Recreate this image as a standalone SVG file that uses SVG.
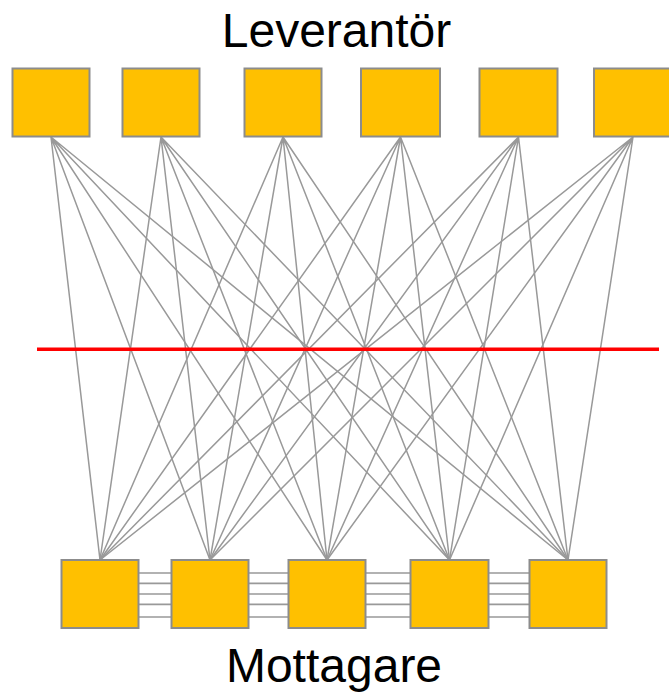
<svg xmlns="http://www.w3.org/2000/svg" width="669" height="693" viewBox="0 0 669 693">
<style>
.box{fill:#FFC000;stroke:#8C8C8C;stroke-width:2}
.c{stroke:#999999;stroke-width:1.5;fill:none}
.h{stroke:#999999;stroke-width:1.7;fill:none}
.t{font-family:"Liberation Sans",Arial,sans-serif;font-size:48px;fill:#000;text-anchor:middle}
</style>
<rect width="669" height="693" fill="#fff"/>
<g id="connectors">
<g class="c">
<path d="M51 137L100 560M51 137L210 560M51 137L327 560M51 137L449.5 560M51 137L568 560"/>
<path d="M161 137L100 560M161 137L210 560M161 137L327 560M161 137L449.5 560M161 137L568 560"/>
<path d="M283 137L100 560M283 137L210 560M283 137L327 560M283 137L449.5 560M283 137L568 560"/>
<path d="M400.5 137L100 560M400.5 137L210 560M400.5 137L327 560M400.5 137L449.5 560M400.5 137L568 560"/>
<path d="M518.5 137L100 560M518.5 137L210 560M518.5 137L327 560M518.5 137L449.5 560M518.5 137L568 560"/>
<path d="M633 137L100 560M633 137L210 560M633 137L327 560M633 137L449.5 560M633 137L568 560"/>
</g>
<g class="h">
<path d="M139 573H171M139 583.3H171M139 594H171M139 604.3H171M139 617H171"/>
<path d="M249 573H288M249 583.3H288M249 594H288M249 604.3H288M249 617H288"/>
<path d="M366 573H410M366 583.3H410M366 594H410M366 604.3H410M366 617H410"/>
<path d="M489 573H529M489 583.3H529M489 594H529M489 604.3H529M489 617H529"/>
</g>
</g>
<g id="cut"><line x1="37" y1="349.3" x2="659" y2="349.3" stroke="#FF0000" stroke-width="3.5"/></g>
<g id="sup1"><rect class="box" x="12.5" y="68.5" width="77" height="68"/></g>
<g id="sup2"><rect class="box" x="122.5" y="68.5" width="77" height="68"/></g>
<g id="sup3"><rect class="box" x="244.5" y="68.5" width="77" height="68"/></g>
<g id="sup4"><rect class="box" x="361" y="68.5" width="79" height="68"/></g>
<g id="sup5"><rect class="box" x="479.5" y="68.5" width="78" height="68"/></g>
<g id="sup6"><rect class="box" x="594" y="68.5" width="78" height="68"/></g>
<g id="rec1"><rect class="box" x="61.5" y="560" width="77" height="68"/></g>
<g id="rec2"><rect class="box" x="171.5" y="560" width="77" height="68"/></g>
<g id="rec3"><rect class="box" x="288.5" y="560" width="77" height="68"/></g>
<g id="rec4"><rect class="box" x="410.5" y="560" width="78" height="68"/></g>
<g id="rec5"><rect class="box" x="529.5" y="560" width="77" height="68"/></g>
<text class="t" x="336.5" y="47">Leverantör</text>
<text class="t" x="334" y="682">Mottagare</text>
</svg>
